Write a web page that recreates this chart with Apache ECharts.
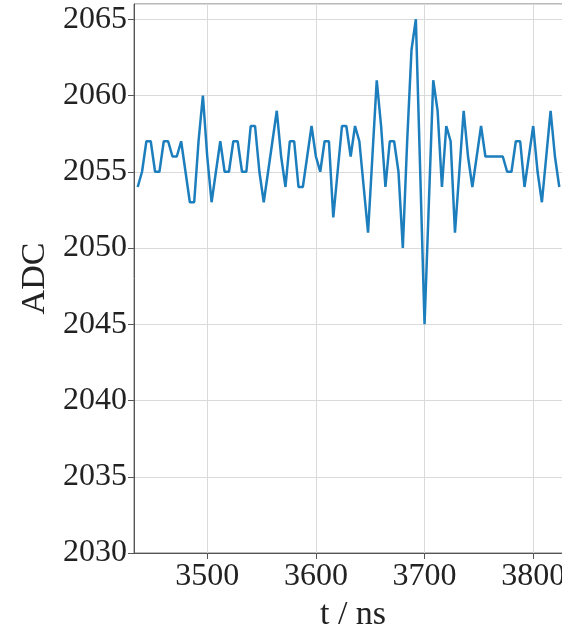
<!DOCTYPE html>
<html>
<head>
<meta charset="utf-8">
<script src="https://cdn.jsdelivr.net/npm/echarts@6/dist/echarts.min.js"></script>
<style>
  html, body { margin: 0; padding: 0; background: #ffffff; overflow: hidden; width: 562px; height: 629px; }
  #wrap { width: 562px; height: 629px; overflow: hidden; position: relative; }
  #chart { width: 572px; height: 629px; position: absolute; left: 0; top: 0; }
</style>
</head>
<body>
<div id="wrap"><div id="chart"></div></div>
<script>
// Sample times (ns)
const times = [
  3436,3440,3444,3448,3452,3456,3460,3464,3468,3472,
  3476,3480,3484,3488,3492,3496,3500,3504,3508,3512,
  3516,3520,3524,3528,3532,3536,3540,3544,3548,3552,
  3556,3560,3564,3568,3572,3576,3580,3584,3588,3592,
  3596,3600,3604,3608,3612,3616,3620,3624,3628,3632,
  3636,3640,3644,3648,3652,3656,3660,3664,3668,3672,
  3676,3680,3684,3688,3692,3696,3700,3704,3708,3712,
  3716,3720,3724,3728,3732,3736,3740,3744,3748,3752,
  3756,3760,3764,3768,3772,3776,3780,3784,3788,3792,
  3796,3800,3804,3808,3812,3816,3820,3824
];
// ADC values
const adc = [
  2054,2055,2057,2057,2055,2055,2057,2057,2056,2056,
  2057,2055,2053,2053,2057,2060,2056,2053,2055,2057,
  2055,2055,2057,2057,2055,2055,2058,2058,2055,2053,
  2055,2057,2059,2056,2054,2057,2057,2054,2054,2056,
  2058,2056,2055,2057,2057,2052,2055,2058,2058,2056,
  2058,2057,2054,2051,2056,2061,2058,2054,2057,2057,
  2055,2050,2057,2063,2065,2055,2045,2053,2061,2059,
  2054,2058,2057,2051,2055,2059,2056,2054,2056,2058,
  2056,2056,2056,2056,2056,2055,2055,2057,2057,2054,
  2056,2058,2055,2053,2056,2059,2056,2054
];
const xLabel = 't / ns';
const yLabel = 'ADC';

const font = '"Liberation Serif", "DejaVu Serif", serif';
const chart = echarts.init(document.getElementById('chart'), null, { renderer: 'canvas' });
chart.setOption({
  animation: false,
  backgroundColor: '#ffffff',
  grid: {
    left: 134, top: 4, right: 0, bottom: 76,
    containLabel: false,
    outerBoundsMode: 'none',
    show: true, borderColor: '#777', borderWidth: 1, backgroundColor: 'transparent'
  },
  xAxis: {
    type: 'value',
    min: 3432.6, max: 3835.7,
    splitNumber: 4,
    name: xLabel,
    nameLocation: 'middle',
    nameGap: 37,
    nameTextStyle: { fontFamily: font, fontSize: 34, color: '#222' },
    axisLine: { show: true, lineStyle: { color: '#555', width: 1 } },
    axisTick: { show: true, inside: false, length: 6, lineStyle: { color: '#555' } },
    axisLabel: { fontFamily: font, fontSize: 32, color: '#222', margin: 8, showMinLabel: false, showMaxLabel: false,
                 formatter: v => String(Math.round(v)) },
    splitLine: { show: true, lineStyle: { color: '#dadada', width: 1 } }
  },
  yAxis: {
    type: 'value',
    min: 2030, max: 2066, interval: 5,
    name: yLabel,
    nameLocation: 'middle',
    nameGap: 80,
    nameTextStyle: { fontFamily: font, fontSize: 34, color: '#222' },
    axisLine: { show: true, lineStyle: { color: '#555', width: 1 } },
    axisTick: { show: true, inside: false, length: 6, lineStyle: { color: '#555' } },
    axisLabel: { fontFamily: font, fontSize: 32, color: '#222', margin: 7, showMaxLabel: false,
                 formatter: v => String(Math.round(v)) },
    splitLine: { show: true, lineStyle: { color: '#dadada', width: 1 } }
  },
  series: [{
    type: 'line',
    data: times.map((t, i) => [t, adc[i]]),
    showSymbol: false,
    symbol: 'none',
    clip: true,
    lineStyle: { color: '#1c7ebd', width: 2.5 }
  }]
});
</script>
</body>
</html>
